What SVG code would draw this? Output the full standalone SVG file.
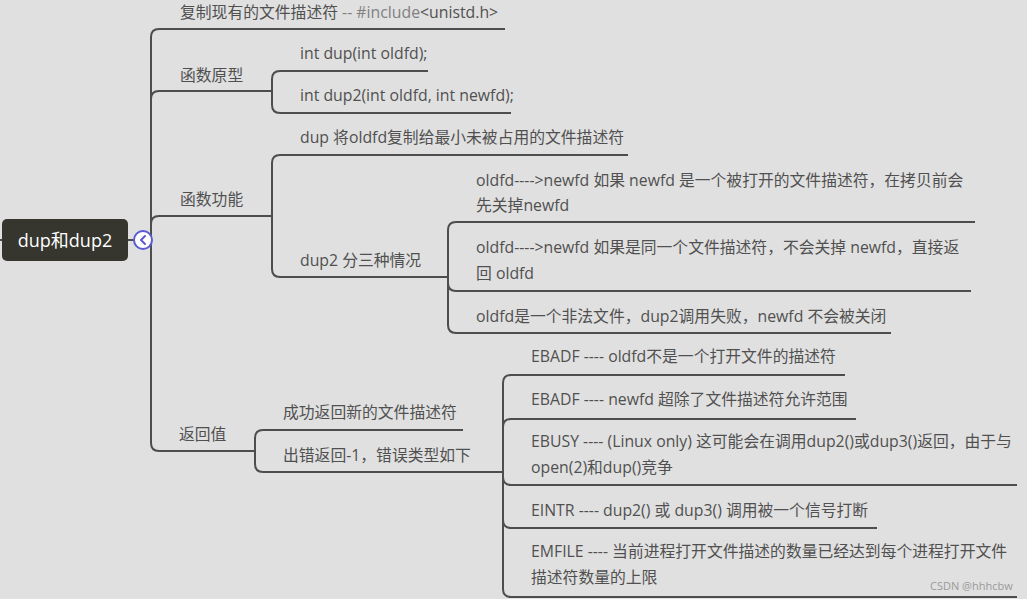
<svg xmlns="http://www.w3.org/2000/svg" width="1027" height="599" viewBox="0 0 1027 599">
<style>
.t{font-family:"Open Sans","Noto Sans CJK SC",sans-serif;font-size:15.8px;fill:#505050}
.c{fill:none;stroke:#4d4d4d;stroke-width:2}
</style>
<rect width="1027" height="599" fill="#e0e0e0"/>
<g id="connectors" class="c">
<path d="M0,240 H2 M128,240 H134 M152,240 H151"/>
<path d="M151,240 V37 Q151,29 159,29 H505"/>
<path d="M151,240 V99 Q151,91 159,91 H272"/>
<path d="M151,240 V224 Q151,216 159,216 H272"/>
<path d="M151,240 V443 Q151,451 159,451 H255"/>
<path d="M272,91 V79 Q272,71 280,71 H428"/>
<path d="M272,91 V105 Q272,113 280,113 H511"/>
<path d="M272,216 V163 Q272,155 280,155 H628"/>
<path d="M272,216 V269 Q272,277 280,277 H448"/>
<path d="M448,277 V230 Q448,222 456,222 H975"/>
<path d="M448,277 V283 Q448,291 456,291 H971"/>
<path d="M448,277 V325 Q448,333 456,333 H891"/>
<path d="M255,451 V438 Q255,430 263,430 H463"/>
<path d="M255,451 V464 Q255,472 263,472 H503"/>
<path d="M503,472 V383 Q503,375 511,375 H845"/>
<path d="M503,472 V427 Q503,419 511,419 H856"/>
<path d="M503,472 V477 Q503,485 511,485 H1017"/>
<path d="M503,472 V520 Q503,528 511,528 H877"/>
<path d="M503,472 V589 Q503,597 511,597 H1017"/>
</g>
<g id="root">
<rect x="2" y="219" width="126" height="42" rx="5" fill="#36362f"/>
<text x="65" y="247" text-anchor="middle" style="font-family:'Open Sans','Noto Sans CJK SC',sans-serif;font-size:18px;fill:#ffffff">dup和dup2</text>
</g>
<g id="collapse">
<circle cx="143" cy="240" r="9" fill="#ffffff" stroke="#5a5ad2" stroke-width="2"/>
<path d="M145,236 L141,240 L145,244" fill="none" stroke="#5a5ad2" stroke-width="2" stroke-linecap="round" stroke-linejoin="round"/>
</g>
<g id="n-include"><text class="t" x="180" y="18">复制现有的文件描述符 <tspan fill="#808080">-- #include</tspan>&lt;unistd.h&gt;</text></g>
<g id="n-proto"><text class="t" x="180" y="81">函数原型</text></g>
<g id="n-dup"><text class="t" x="300" y="59">int dup(int oldfd);</text></g>
<g id="n-dup2"><text class="t" x="300" y="101">int dup2(int oldfd, int newfd);</text></g>
<g id="n-func"><text class="t" x="180" y="205">函数功能</text></g>
<g id="n-dupfunc"><text class="t" x="300" y="143">dup 将oldfd复制给最小未被占用的文件描述符</text></g>
<g id="n-dup2func"><text class="t" x="300" y="266">dup2 分三种情况</text></g>
<g id="n-case1"><text class="t" x="476" y="186">oldfd----&gt;newfd 如果 newfd 是一个被打开的文件描述符，在拷贝前会</text><text class="t" x="476" y="211">先关掉newfd</text></g>
<g id="n-case2"><text class="t" x="476" y="253">oldfd----&gt;newfd 如果是同一个文件描述符，不会关掉 newfd，直接返</text><text class="t" x="476" y="279">回 oldfd</text></g>
<g id="n-case3"><text class="t" x="476" y="322">oldfd是一个非法文件，dup2调用失败，newfd 不会被关闭</text></g>
<g id="n-ret"><text class="t" x="179" y="440">返回值</text></g>
<g id="n-ok"><text class="t" x="283" y="418">成功返回新的文件描述符</text></g>
<g id="n-err"><text class="t" x="283" y="461">出错返回-1，错误类型如下</text></g>
<g id="n-ebadf1"><text class="t" x="531" y="362">EBADF ---- oldfd不是一个打开文件的描述符</text></g>
<g id="n-ebadf2"><text class="t" x="531" y="405">EBADF ---- newfd 超除了文件描述符允许范围</text></g>
<g id="n-ebusy"><text class="t" x="531" y="447">EBUSY ---- (Linux only) 这可能会在调用dup2()或dup3()返回，由于与</text><text class="t" x="531" y="473">open(2)和dup()竞争</text></g>
<g id="n-eintr"><text class="t" x="531" y="516">EINTR ---- dup2() 或 dup3() 调用被一个信号打断</text></g>
<g id="n-emfile"><text class="t" x="531" y="557">EMFILE ---- 当前进程打开文件描述的数量已经达到每个进程打开文件</text><text class="t" x="531" y="583">描述符数量的上限</text></g>
<text x="930" y="590" style="font-family:'Open Sans',sans-serif;font-size:11px;fill:#9a9a9a">CSDN @hhhcbw</text>
</svg>
